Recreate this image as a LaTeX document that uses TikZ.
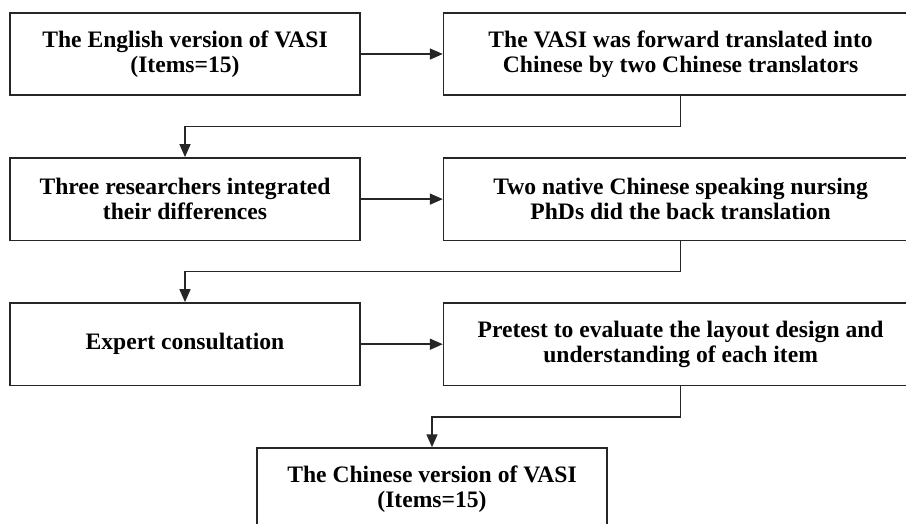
\documentclass[tikz,border=0pt]{standalone}
\usepackage{fontspec}
\setmainfont{Liberation Serif}
\usepackage{tikz}
\usetikzlibrary{positioning}
\usetikzlibrary{arrows.meta}
\tikzstyle{box_l} = [rectangle, draw=black!85, line width=1.6pt, font=\bfseries\fontsize{23.6}{25.5}\selectfont, align=center, inner sep=0pt, minimum width=350pt, minimum height=82.5pt, text centered]
\tikzstyle{box_r} = [box_l, minimum width=474pt]
\tikzstyle{arr} = [->, draw=black!85, line width=1.6pt]

\begin{document}
\begin{tikzpicture}[x=1pt,y=1pt,>={Triangle[length=13pt,width=11pt]}]
\useasboundingbox (0,0) rectangle (906,-523);
\node [box_l] (eng) at (185,-54) {The English version of VASI\\(Items=15)};
\node [box_r, right=82pt of eng] (fwd) {The VASI was forward translated into\\Chinese by two Chinese translators};
\node [box_l, below=61pt of eng] (integ) {Three researchers integrated\\their differences};
\node [box_r, right=82pt of integ] (back) {Two native Chinese speaking nursing\\PhDs did the back translation};
\node [box_l, below=61pt of integ] (expert) {Expert consultation};
\node [box_r, right=82pt of expert] (pretest) {Pretest to evaluate the layout design and\\understanding of each item};
\node [box_l, below=61pt of expert, xshift=247pt] (chn) {The Chinese version of VASI\\(Items=15)};
% connectors
\draw [arr] (eng) -- (fwd);
\draw [arr] (integ) -- (back);
\draw [arr] (expert) -- (pretest);
\draw [arr] (fwd.south) -- ++(0,-30.5) -| (integ.north);
\draw [arr] (back.south) -- ++(0,-30.5) -| (expert.north);
\draw [arr] (pretest.south) -- ++(0,-30.5) -| (chn.north);
\end{tikzpicture}
\end{document}
